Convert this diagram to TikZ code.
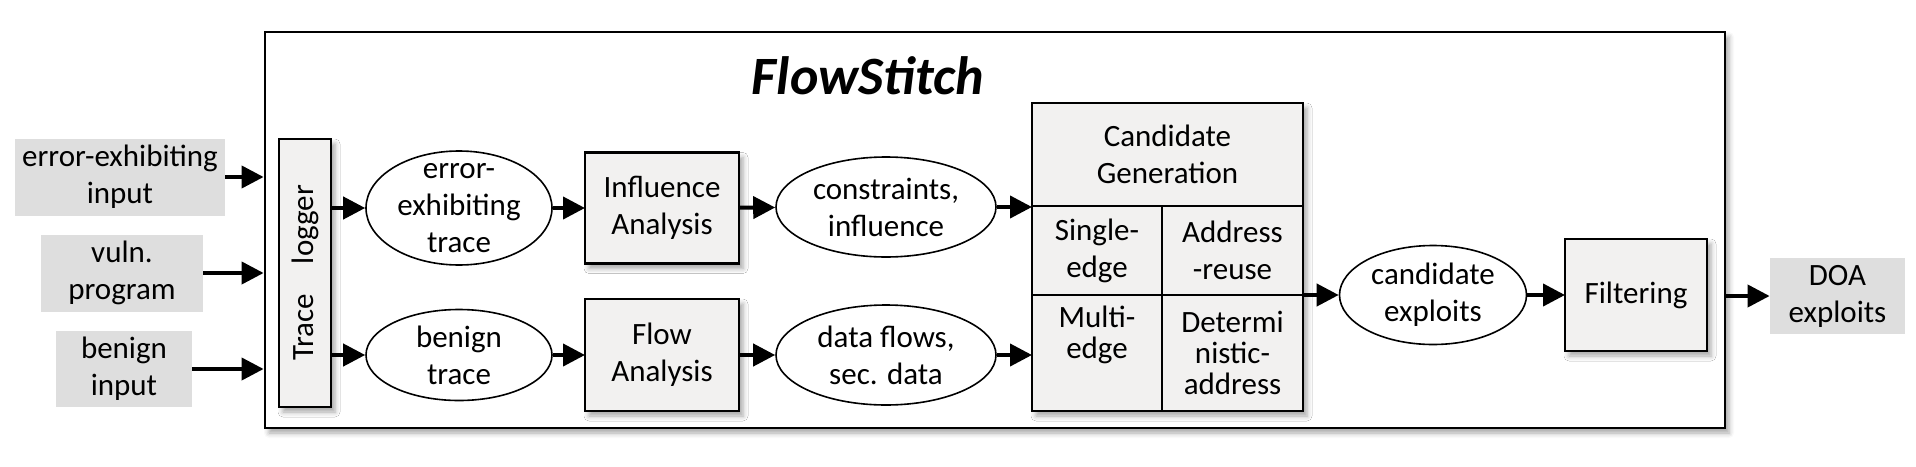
\documentclass[tikz,border=0pt]{standalone}
\usepackage{fontspec}
\setmainfont{Carlito}
\usetikzlibrary{positioning, arrows.meta, shapes.geometric, shadows.blur}
\definecolor{boxgray}{RGB}{242,241,240}
\definecolor{inputgray}{RGB}{222,222,222}
\newcommand{\bodyfont}{\fontsize{15.5}{18.5}\selectfont}
\tikzset{%
  softshadow/.style={
    blur shadow={shadow xshift=2pt, shadow yshift=-2.5pt, shadow blur radius=2.5pt, shadow opacity=35}
  },
  stagebox/.style={
    draw,
    line width=1.2pt,
    fill=boxgray,
    align=center,
    font=\bodyfont,
    inner sep=0pt,
    outer sep=0pt,
    softshadow
  },
  cellbox/.style={
    draw,
    line width=0.8pt,
    align=center,
    font=\bodyfont,
    inner sep=0pt,
    outer sep=0pt
  },
  dataell/.style={
    ellipse,
    draw,
    line width=0.8pt,
    fill=white,
    inner sep=0pt
  },
  datatext/.style={align=center, font=\bodyfont},
  inbox/.style={fill=inputgray, align=center, font=\bodyfont, inner sep=0pt},
  arr/.style={-{Triangle[length=11pt, width=11pt]}, line width=2pt}
}

\begin{document}
\begin{tikzpicture}[x=0.5pt, y=-0.5pt]
		\useasboundingbox (0,0) rectangle (1916,466);
		% outer frame
		\node[draw, line width=1.4pt, fill=white, minimum width=730pt, minimum height=198pt, softshadow] (frame) at (995,230) {};
		\node[font=\fontsize{27}{32}\selectfont\bfseries\itshape] (title) at (868,76) {FlowStitch};
		% inputs
		\node[inbox, minimum width=105pt, minimum height=38.5pt] (errin) at (120,177) {error-exhibiting\\input};
		\node[inbox, minimum width=81pt, minimum height=38.5pt] (vulnin) at (122,273) {vuln.\\program};
		\node[inbox, minimum width=68pt, minimum height=38pt] (benin) at (124,369) {benign\\input};
		\draw[arr] (errin.east) -- (errin.east -| frame.west);
		\draw[arr] (vulnin.east) -- (vulnin.east -| frame.west);
		\draw[arr] (benin.east) -- (benin.east -| frame.west);
		% trace logger
		\node[stagebox, minimum width=26pt, minimum height=134pt] (logger) at (305,273) {};
		\node[font=\bodyfont, rotate=90] (loggertext) at (logger.center) {Trace\hspace{15pt}logger};
		% traces
		\node[dataell, minimum width=93pt, minimum height=57pt, label={[datatext]center:error-\\exhibiting\\trace}] (etrace) at (459,208) {};
		\node[dataell, minimum width=93pt, minimum height=45.5pt, label={[datatext]center:benign\\trace}] (btrace) at (459,355) {};
		\draw[arr] (etrace.west -| logger.east) -- (etrace.west);
		\draw[arr] (btrace.west -| logger.east) -- (btrace.west);
		% analyses
		\node[stagebox, minimum width=77pt, minimum height=55.5pt] (infl) at (662,208) {Influence\\Analysis};
		\node[stagebox, minimum width=77pt, minimum height=56pt] (flow) at (662,355) {Flow\\Analysis};
		\draw[arr] (etrace) -- (infl);
		\draw[arr] (btrace) -- (flow);
		% analysis results
		\node[dataell, minimum width=110pt, minimum height=50pt, label={[datatext]center:{constraints,\\influence}}] (cons) at (886,207) {};
		\node[dataell, minimum width=110pt, minimum height=50pt, label={[datatext]center:{data flows,\\sec. data}}] (dflow) at (886,355) {};
		\draw[arr] (infl) -- (cons);
		\draw[arr] (flow) -- (dflow);
		% candidate generation
		\node[stagebox, minimum width=135.5pt, minimum height=154pt] (cgen) at (1167.5,257) {};
		\node[cellbox, minimum width=135.5pt, minimum height=51.5pt, anchor=north west] (cghead) at (cgen.north west) {Candidate\\Generation};
		\node[cellbox, minimum width=65pt, minimum height=44.5pt, below right=0pt of cghead.south west] (sedge) {Single-\\edge};
		\node[cellbox, minimum width=70.5pt, minimum height=44.5pt, right=0pt of sedge] (areuse) {Address\\-reuse};
		\node[cellbox, minimum width=65pt, minimum height=58pt, below=0pt of sedge] (medge) {Multi-\\[-3pt]edge\\[-3pt]\strut};
		\node[cellbox, minimum width=70.5pt, minimum height=58pt, below=0pt of areuse] (daddr) {Determi\\[-3pt]nistic-\\[-3pt]address};
		\draw[arr] (cons.east) -- (cons.east -| cgen.west);
		\draw[arr] (dflow.east) -- (dflow.east -| cgen.west);
		% candidates and filtering
		\node[dataell, minimum width=93.5pt, minimum height=49.5pt, label={[datatext]center:candidate\\exploits}] (cexp) at (1433,295) {};
		\draw[arr] (areuse.south east) -- (cexp.west);
		\node[stagebox, minimum width=71pt, minimum height=56pt] (filt) at (1636,295) {Filtering};
		\draw[arr] (cexp) -- (filt);
		% output
		\node[inbox, minimum width=67.5pt, minimum height=38pt] (doa) at (1837.5,296) {DOA\\exploits};
		\draw[arr] (doa.west -| frame.east) -- (doa.west);
	\end{tikzpicture}
\end{document}
